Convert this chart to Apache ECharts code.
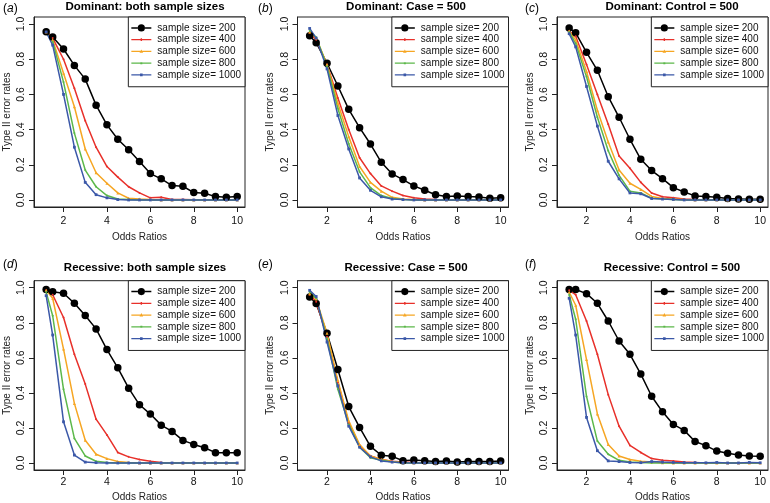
<!DOCTYPE html>
<html>
<head>
<meta charset="utf-8">
<script src="https://cdn.jsdelivr.net/npm/echarts@6/dist/echarts.min.js"></script>
<style>html,body{margin:0;padding:0;background:#fff}#c{width:770px;height:503px}</style>
</head>
<body>
<div id="c"></div>
<script>
const oddsRatios = [1.2,1.5,2,2.5,3,3.5,4,4.5,5,5.5,6,6.5,7,7.5,8,8.5,9,9.5,10];
const seriesNames = ['sample size= 200','sample size= 400','sample size= 600','sample size= 800','sample size= 1000'];
const xTicks = [2,4,6,8,10];
const yTicks = [0,0.2,0.4,0.6,0.8,1.0];
const panelTitles = ['Dominant: both sample sizes','Dominant: Case = 500','Dominant: Control = 500',
  'Recessive: both sample sizes','Recessive: Case = 500','Recessive: Control = 500'];
const panelLetters = ['a','b','c','d','e','f'];

// Panel (a)
const a200 = [0.956,0.926,0.858,0.765,0.687,0.539,0.427,0.345,0.285,0.218,0.150,0.120,0.082,0.078,0.042,0.038,0.019,0.015,0.019];
const a400 = [0.955,0.920,0.800,0.635,0.450,0.300,0.190,0.130,0.075,0.040,0.012,0.015,0.003,0.002,0.001,0,0,0,0];
const a600 = [0.955,0.910,0.720,0.530,0.290,0.155,0.095,0.040,0.010,0.005,0.002,0,0,0,0,0,0,0,0];
const a800 = [0.955,0.900,0.670,0.380,0.170,0.075,0.025,0.005,0.002,0,0,0,0,0,0,0,0,0,0];
const a1000 = [0.955,0.880,0.600,0.300,0.100,0.030,0.012,0.002,0,0,0,0,0,0,0,0,0,0,0];
// Panel (b)
const b200 = [0.934,0.894,0.777,0.648,0.515,0.411,0.318,0.214,0.148,0.116,0.080,0.055,0.030,0.020,0.022,0.019,0.017,0.010,0.013];
const b400 = [0.950,0.910,0.770,0.580,0.400,0.240,0.150,0.080,0.050,0.025,0.012,0.005,0.002,0,0,0,0,0,0];
const b600 = [0.955,0.920,0.770,0.550,0.360,0.190,0.100,0.050,0.015,0.005,0.002,0,0,0,0,0,0,0,0];
const b800 = [0.960,0.925,0.760,0.520,0.320,0.160,0.070,0.025,0.008,0.002,0,0,0,0,0,0,0,0,0];
const b1000 = [0.975,0.920,0.745,0.480,0.290,0.125,0.055,0.018,0.005,0.002,0,0,0,0,0,0,0,0,0];
// Panel (c)
const c200 = [0.977,0.950,0.839,0.737,0.587,0.470,0.345,0.231,0.167,0.121,0.070,0.045,0.023,0.019,0.015,0.008,0.006,0.004,0.004];
const c400 = [0.960,0.930,0.770,0.600,0.430,0.250,0.180,0.100,0.040,0.018,0.012,0.005,0.003,0,0,0,0,0,0];
const c600 = [0.960,0.910,0.730,0.510,0.330,0.170,0.095,0.060,0.020,0.008,0.005,0.002,0,0,0,0,0,0,0];
const c800 = [0.955,0.890,0.700,0.470,0.280,0.140,0.050,0.040,0.010,0.005,0.002,0,0,0,0,0,0,0,0];
const c1000 = [0.945,0.870,0.645,0.420,0.220,0.120,0.040,0.035,0.008,0.005,0.003,0,0,0,0,0,0,0,0];
// Panel (d)
const d200 = [0.990,0.977,0.968,0.911,0.842,0.765,0.647,0.543,0.427,0.332,0.279,0.216,0.180,0.129,0.106,0.087,0.059,0.059,0.059];
const d400 = [0.985,0.960,0.830,0.620,0.450,0.250,0.160,0.060,0.035,0.020,0.010,0.003,0,0,0,0,0,0,0];
const d600 = [0.985,0.940,0.650,0.340,0.130,0.050,0.025,0.008,0.003,0,0,0,0,0,0,0,0,0,0];
const d800 = [0.975,0.840,0.420,0.140,0.040,0.010,0.003,0,0,0,0,0,0,0,0,0,0,0,0];
const d1000 = [0.955,0.730,0.235,0.045,0.005,0.002,0,0,0,0,0,0,0,0,0,0,0,0,0];
// Panel (e)
const e200 = [0.947,0.910,0.740,0.533,0.322,0.203,0.095,0.044,0.038,0.013,0.017,0.013,0.008,0.011,0.006,0.008,0.008,0.008,0.011];
const e400 = [0.960,0.920,0.720,0.460,0.230,0.100,0.040,0.020,0.010,0.005,0.003,0,0,0,0,0,0,0,0];
const e600 = [0.965,0.935,0.740,0.470,0.240,0.105,0.040,0.020,0.008,0.003,0,0,0,0,0,0,0,0,0];
const e800 = [0.975,0.940,0.710,0.420,0.220,0.090,0.030,0.015,0.005,0,0,0,0,0,0,0,0,0,0];
const e1000 = [0.985,0.950,0.690,0.440,0.210,0.090,0.035,0.012,0.005,0.002,0,0,0,0,0,0,0,0,0];
// Panel (f)
const f200 = [0.990,0.990,0.966,0.911,0.810,0.696,0.620,0.507,0.381,0.292,0.220,0.186,0.123,0.099,0.068,0.055,0.046,0.040,0.038];
const f400 = [0.985,0.960,0.810,0.620,0.390,0.210,0.100,0.060,0.025,0.015,0.012,0.005,0.003,0,0,0,0,0,0];
const f600 = [0.975,0.900,0.590,0.280,0.105,0.040,0.020,0.010,0.005,0.002,0,0,0,0,0,0,0,0,0];
const f800 = [0.960,0.820,0.380,0.125,0.050,0.015,0.005,0.003,0,0,0,0,0,0,0,0,0,0,0];
const f1000 = [0.940,0.730,0.260,0.070,0.012,0.008,0.003,0.002,0.008,0.005,0.003,0.002,0.002,0.001,0.003,0,0,0.003,0.001];

const panels = [
  [a200,a400,a600,a800,a1000],
  [b200,b400,b600,b800,b1000],
  [c200,c400,c600,c800,c1000],
  [d200,d400,d600,d800,d1000],
  [e200,e400,e600,e800,e1000],
  [f200,f400,f600,f800,f1000]
];

// styling / layout
const FONT = 'Liberation Sans, Arial, sans-serif';
const colors = ['#000000','#e8302a','#f6a623','#5cb84a','#3b58a8'];
const symbols = ['circle','circle','triangle','circle','rect'];
const symbolSizes = [7.5,2,3,2,2.8];
// legend icons (20 x 8 box): line with marker
const BOUNDS = 'M0,0 M20,8 ';
const legendIcons = [
  'path://' + BOUNDS + 'M0,3.25 L6.4,3.25 L6.4,4.75 L0,4.75 Z M13.6,3.25 L20,3.25 L20,4.75 L13.6,4.75 Z M6.4,4 A3.6,3.6 0 1,1 13.6,4 A3.6,3.6 0 1,1 6.4,4 Z',
  'path://' + BOUNDS + 'M0,3.3 L20,3.3 L20,4.7 L0,4.7 Z M9.3,2.6 L10.7,2.6 L10.7,5.4 L9.3,5.4 Z',
  'path://' + BOUNDS + 'M0,3.3 L20,3.3 L20,4.7 L0,4.7 Z M10,2 L11.8,5.3 L8.2,5.3 Z',
  'path://' + BOUNDS + 'M0,3.3 L20,3.3 L20,4.7 L0,4.7 Z M9,3 L11,3 L11,5 L9,5 Z',
  'path://' + BOUNDS + 'M0,3.3 L20,3.3 L20,4.7 L0,4.7 Z M8.7,2.7 L11.3,2.7 L11.3,5.3 L8.7,5.3 Z'
];
const colLeft = [34, 297.5, 557];
const colTitleX = [145, 406, 672];
const colLetterX = [3, 258, 525];
const rowTop = [17, 280.7];
const rowTitleY = [6.5, 268];
const rowLetterY = [9, 265];
const gridW = 211, gridH = 190;

const grids = [], xAxes = [], yAxes = [], series = [], legends = [], graphics = [];
panels.forEach((p, i) => {
  const col = i % 3, row = Math.floor(i / 3);
  grids.push({left: colLeft[col], top: rowTop[row], width: gridW, height: gridH,
    show: true, borderColor: '#222', borderWidth: 1, backgroundColor: 'transparent'});
  xAxes.push({type: 'value', gridIndex: i, min: 0.64, max: 10.36,
    name: 'Odds Ratios', nameLocation: 'middle', nameGap: row === 0 ? 25 : 22,
    nameTextStyle: {fontFamily: FONT, fontSize: 10, color: '#222'},
    axisLine: {show: true, onZero: false, lineStyle: {color: '#222'}},
    axisTick: {show: true, length: 5, customValues: xTicks, lineStyle: {color: '#222'}},
    axisLabel: {customValues: xTicks, fontFamily: FONT, fontSize: 10.5, color: '#111', margin: row === 0 ? 9 : 7},
    splitLine: {show: false}});
  yAxes.push({type: 'value', gridIndex: i, min: -0.04, max: 1.04,
    name: 'Type II error rates', nameLocation: 'middle', nameGap: 22, nameRotate: 90,
    nameTextStyle: {fontFamily: FONT, fontSize: 10, color: '#222'},
    axisLine: {show: true, onZero: false, lineStyle: {color: '#222'}},
    axisTick: {show: true, length: 5, customValues: yTicks, lineStyle: {color: '#222'}},
    axisLabel: {customValues: yTicks, rotate: 90, fontFamily: FONT, fontSize: 10.5, color: '#111', margin: 7,
      formatter: v => v.toFixed(1)},
    splitLine: {show: false}});
  p.forEach((vals, k) => {
    series.push({type: 'line', name: seriesNames[k], xAxisIndex: i, yAxisIndex: i,
      data: oddsRatios.map((x, j) => [x, vals[j]]),
      symbol: symbols[k], symbolSize: symbolSizes[k], showSymbol: true,
      lineStyle: {color: colors[k], width: 1.5}, itemStyle: {color: colors[k], borderWidth: 0},
      animation: false, silent: true});
  });
  legends.push({data: seriesNames.map((n, k) => ({name: n, icon: legendIcons[k]})), orient: 'vertical',
    right: 770 - (colLeft[col] + gridW), top: rowTop[row],
    borderColor: '#222', borderWidth: 1, backgroundColor: '#fff',
    padding: [5, 4, 6, 3], itemGap: 0, itemWidth: 20, itemHeight: 8,
    selectedMode: false, itemStyle: {borderWidth: 0},
    textStyle: {fontFamily: FONT, fontSize: 10, color: '#111', lineHeight: 11.75, padding: [0,0,0,1]}});
  graphics.push({type: 'text', x: colTitleX[col], y: rowTitleY[row],
    style: {text: panelTitles[i], font: 'bold 11.5px ' + FONT, fill: '#000', textAlign: 'center', textVerticalAlign: 'middle'}});
  graphics.push({type: 'text', x: colLetterX[col], y: rowLetterY[row],
    style: {text: '(' + '{it|' + panelLetters[i] + '})', font: '12px ' + FONT, fill: '#000', textVerticalAlign: 'middle',
      rich: {it: {fontStyle: 'italic', fontSize: 12, fontFamily: FONT}}}});
});

const chart = echarts.init(document.getElementById('c'), null, {renderer: 'canvas'});
chart.setOption({
  animation: false,
  backgroundColor: '#fff',
  grid: grids, xAxis: xAxes, yAxis: yAxes, series: series, legend: legends,
  graphic: graphics
});
</script>
</body>
</html>
